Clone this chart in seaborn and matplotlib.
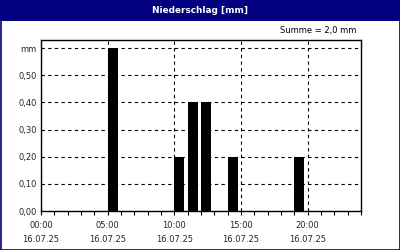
import numpy as np
import pandas as pd
import matplotlib
matplotlib.use("Agg")
import matplotlib.pyplot as plt
import seaborn as sns
from matplotlib.patches import Rectangle
from matplotlib.ticker import MultipleLocator

# data
hours = [5, 10, 11, 12, 14, 19]
values = [0.60, 0.20, 0.40, 0.40, 0.20, 0.20]
tick_hours = [0, 5, 10, 15, 20]
tick_labels = ["00:00\n16.07.25", "05:00\n16.07.25", "10:00\n16.07.25",
               "15:00\n16.07.25", "20:00\n16.07.25"]
y_ticks = [0.0, 0.1, 0.2, 0.3, 0.4, 0.5, 0.6]
y_labels = ["0,00", "0,10", "0,20", "0,30", "0,40", "0,50", "mm"]
title = "Niederschlag [mm]"
summe = "Summe = 2,0 mm"

sns.set_style("white")
plt.rcParams['font.family'] = ['DejaVu Sans']

navy = "#000080"
fig = plt.figure(figsize=(4, 2.5), dpi=100)
fig.patch.set_facecolor("white")

# title bar and border
fig.patches.append(Rectangle((0, 1 - 20.5 / 250), 1, 20.5 / 250, transform=fig.transFigure,
                             facecolor=navy, edgecolor="none", zorder=0))
fig.patches.append(Rectangle((0.5 / 400, 0.5 / 250), 1 - 1 / 400, 1 - 1 / 250, transform=fig.transFigure,
                             facecolor="none", edgecolor=navy, linewidth=1.2, zorder=5))
fig.text(0.5, 1 - 10.5 / 250, title, color="white", fontsize=6.4, fontweight="bold",
         ha="center", va="center")
fig.text(356 / 400, 1 - 31 / 250, summe, color="black", fontsize=6, ha="right", va="center")

ax = fig.add_axes([41 / 400, 1 - 211 / 250, 320 / 400, 171 / 250])
df = pd.DataFrame({"h": hours, "v": values})
sns.barplot(data=df, x="h", y="v", native_scale=True, width=0.75, color="black",
            saturation=1, edgecolor="none", linewidth=0, ax=ax, zorder=3)
# bars start at the hour (interval start)
for p in ax.patches:
    p.set_x(p.get_x() + p.get_width() / 2)

ax.set_xlim(0, 24)
ax.set_ylim(0, 0.63)
ax.set_xticks(tick_hours)
ax.set_xticklabels(tick_labels, fontsize=6, linespacing=1.75)
ax.xaxis.set_minor_locator(MultipleLocator(1))
ax.set_yticks(y_ticks)
ax.set_yticklabels(y_labels, fontsize=6)
ax.set_xlabel("")
ax.set_ylabel("")
ax.tick_params(axis="x", which="major", bottom=True, length=3, width=0.8,
               direction="out", color="black", pad=4)
ax.tick_params(axis="x", which="minor", bottom=True, length=3, width=0.8,
               direction="out", color="black")
ax.tick_params(axis="y", length=0, pad=3)
ax.grid(True, which="major", color="black", linestyle=(0, (3, 3)), linewidth=0.8, zorder=1)
ax.set_axisbelow(True)
for s in ax.spines.values():
    s.set_visible(True)
    s.set_color("black")
    s.set_linewidth(1.0)

fig.savefig("out.png", dpi=100)
